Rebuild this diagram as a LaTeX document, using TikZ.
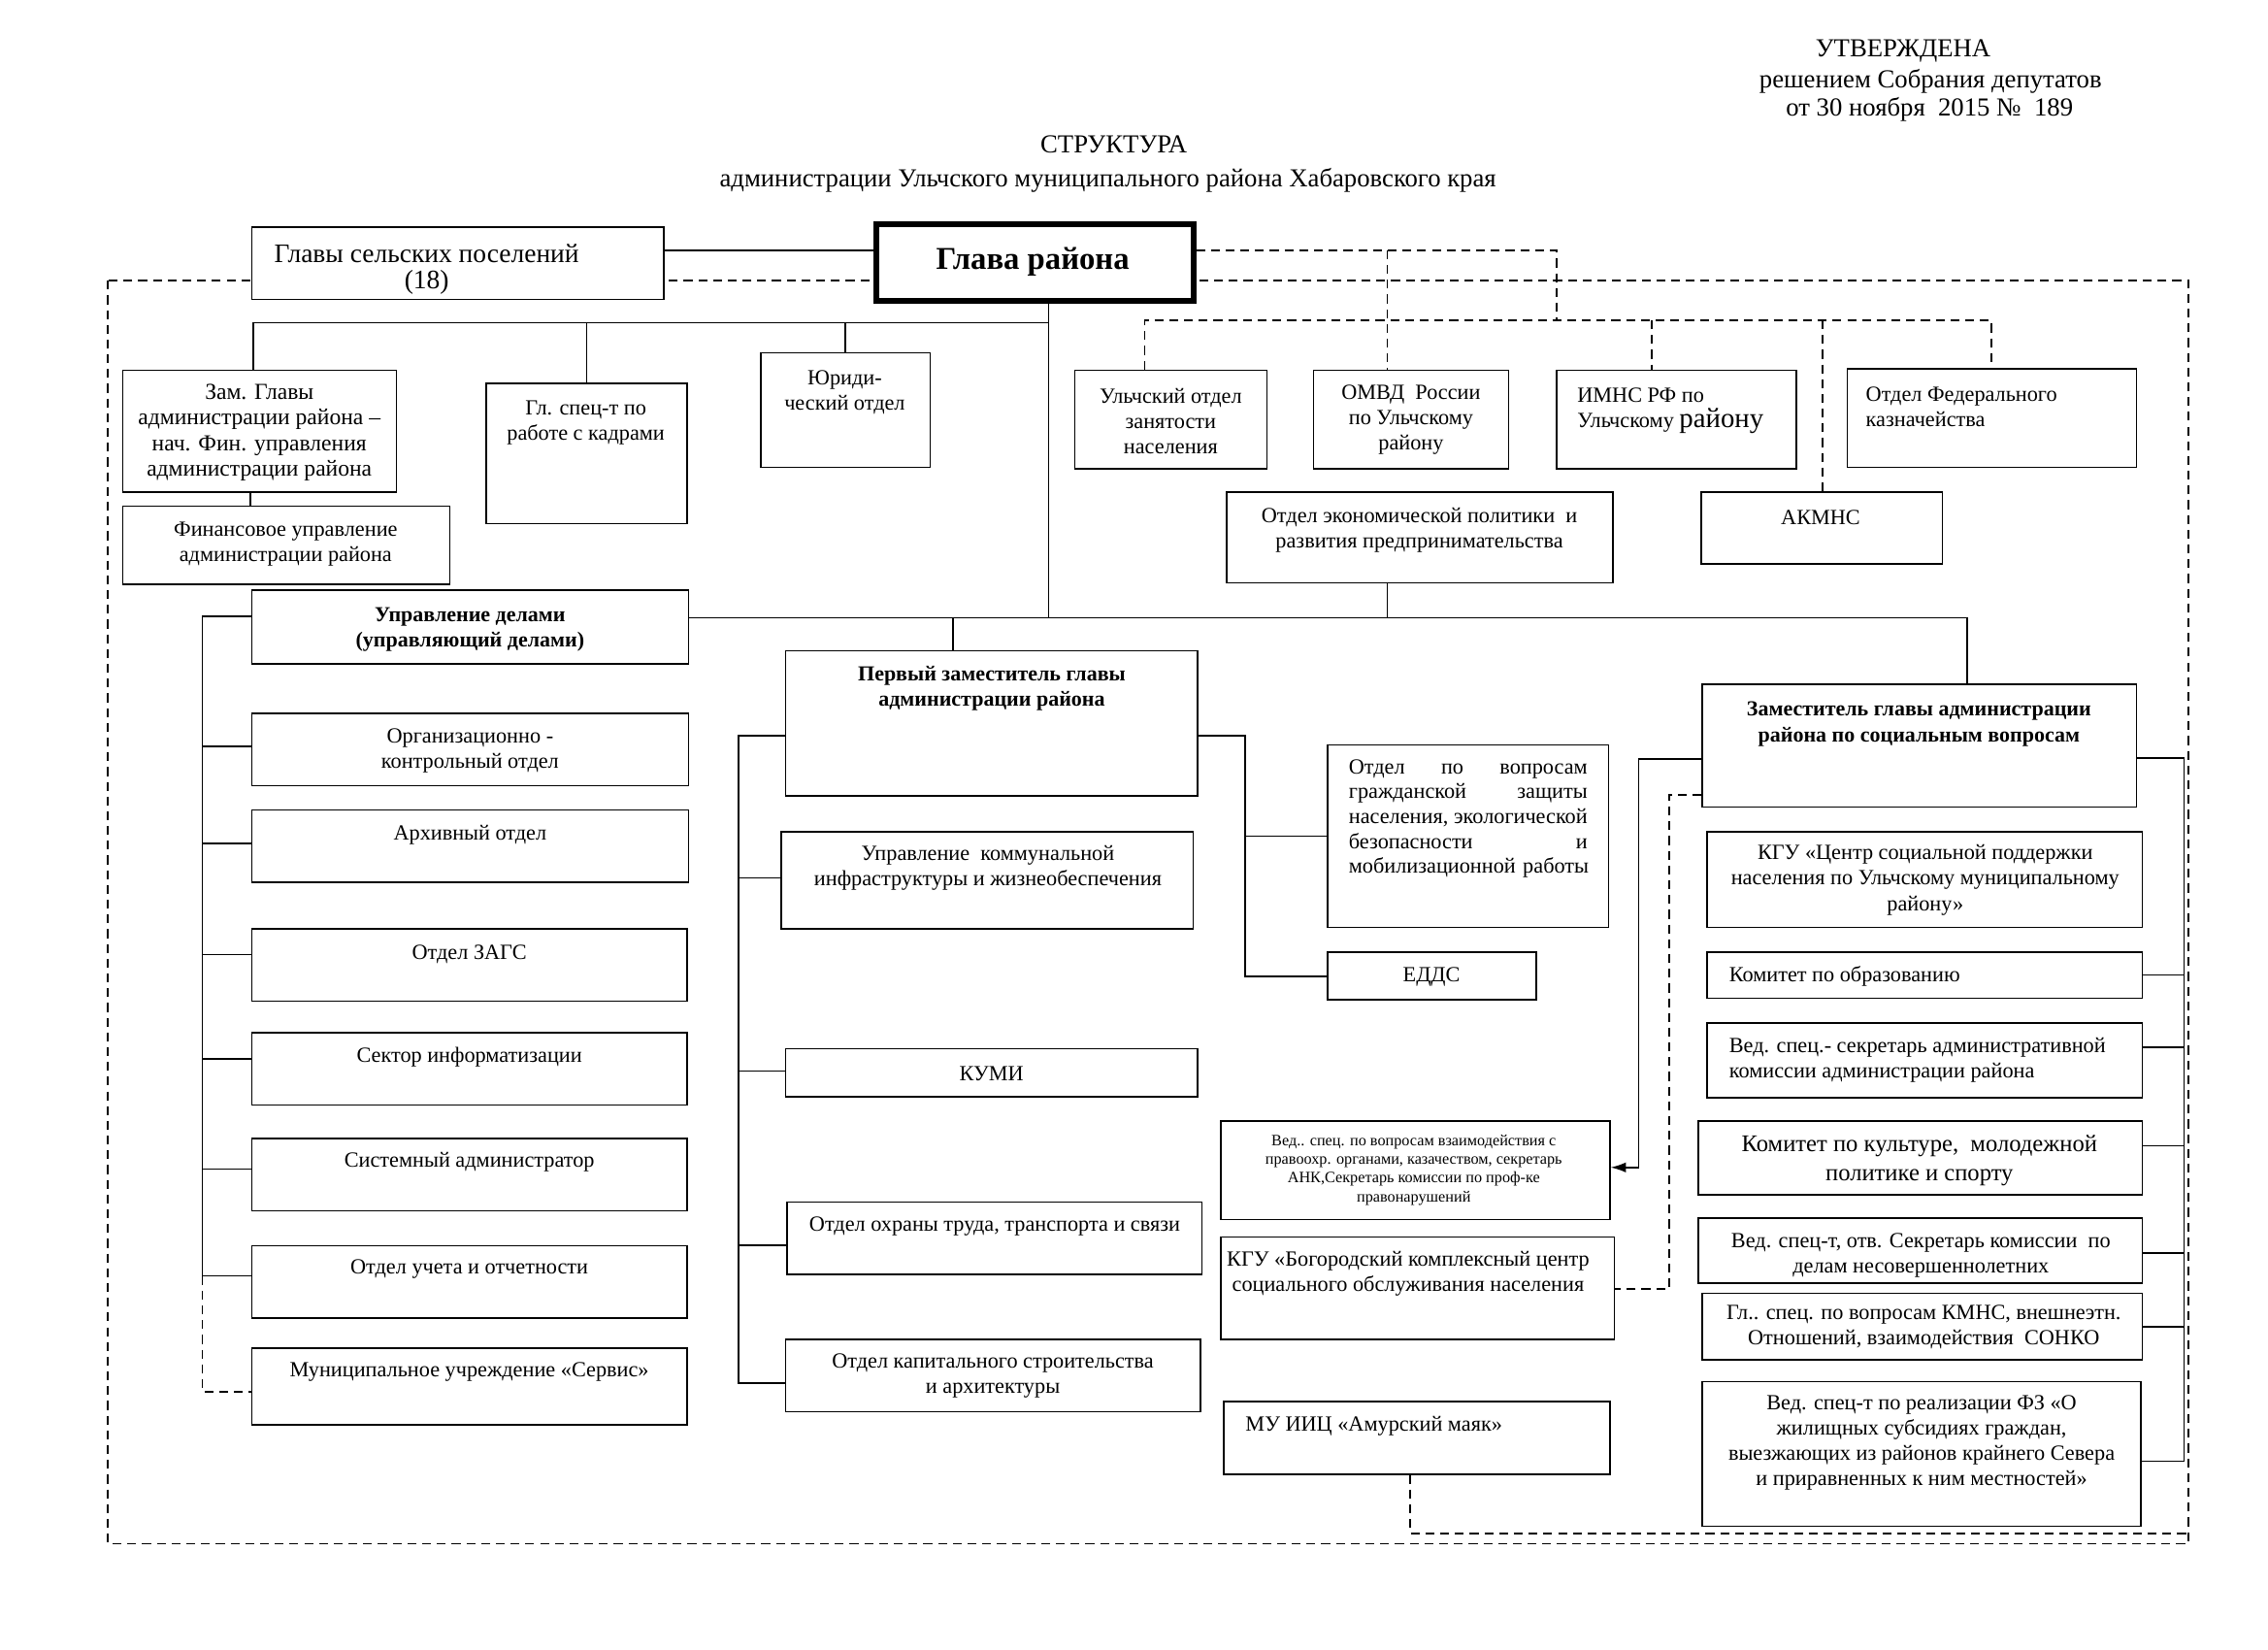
\documentclass[tikz,border=0pt]{standalone}
\usepackage{fontspec}
\setmainfont{Liberation Serif}
\usetikzlibrary{fit,arrows.meta,calc}

\tikzset{
  box/.style={draw, fill=white, line width=0.6pt, inner sep=0pt},
  txt/.style={align=center, inner sep=0pt, font=\fontsize{8.5}{10}\selectfont},
  txtb/.style={txt, font=\fontsize{8.4}{10}\selectfont\bfseries},
  hdr/.style={inner sep=0pt, font=\fontsize{10.2}{12}\selectfont},
  dline/.style={dash pattern=on 3.5pt off 2.3pt},
}

\begin{document}
\begin{tikzpicture}[x=0.02cm, y=-0.02cm, line width=0.6pt, >={Latex[length=6pt,width=4pt]}]

\fill[white] (0,0) rectangle (1568,1140.6);
\useasboundingbox (0,0) rectangle (1568,1140.6);

% dashed frame
\draw[dline] (74.5,194) rectangle (1513,1067);

% header
\node[hdr] at (1315.7,35) (utv) {УТВЕРЖДЕНА};
\node[hdr] at (1334.7,56) (resh) {решением Собрания депутатов};
\node[hdr] at (1334,75.6) (dat) {от 30 ноября~ 2015 №~ 189};
\node[hdr] at (770,100) (strk) {СТРУКТУРА};
\node[hdr] at (766,124.8) (admk) {администрации Ульчского муниципального района Хабаровского края};

% top row
\node[box, fit={(174,157) (459,207)}] (GSP) {};
\node[txt, font=\fontsize{10.5}{10.3}\selectfont] at (295,186) (GSPt) {Главы сельских поселений\\(18)};
\node[box, line width=2.2pt, fit={(606,155) (825,208)}] (GR) {};
\node[txt, font=\fontsize{12.5}{14}\selectfont\bfseries] at (714,181) (GRt) {Глава района};

\node[box, fit={(85,256) (274,340)}] (ZG) {};
\node[txt, font=\fontsize{9}{10}\selectfont] at (179.3,299) (ZGt) {Зам. Главы\\администрации района --\\нач. Фин. управления\\администрации района};
\node[box, fit={(85,350) (311,404)}] (FU) {};
\node[txt] at (197.5,376.3) (FUt) {Финансовое управление\\администрации района};
\node[box, fit={(336,265) (475,362)}] (KD) {};
\node[txt] at (405,292) (KDt) {Гл. спец-т по\\работе с кадрами};
\node[box, fit={(526,244) (643,323)}] (YU) {};
\node[txt] at (584,271) (YUt) {Юриди-\\ческий отдел};

\node[box, fit={(743,256) (876,324)}] (UZ) {};
\node[txt] at (809.4,291) (UZt) {Ульчский отдел\\занятости\\населения};
\node[box, fit={(908,256) (1043,324)}] (OM) {};
\node[txt] at (975.5,290.4) (OMt) {ОМВД~ России\\по Ульчскому\\району};
\node[box, fit={(1076,256) (1242,324)}] (IM) {};
\node[txt, align=left, anchor=west] at (1090,284) (IMt) {ИМНС РФ по\\Ульчскому {\fontsize{11}{12}\selectfont району}};
\node[box, fit={(1277,255) (1477,323)}] (FK) {};
\node[txt, align=left, anchor=west] at (1289.5,281.2) (FKt) {Отдел Федерального\\казначейства};
\node[box, fit={(848,340) (1115,403)}] (OE) {};
\node[txt] at (981.3,366.3) (OEt) {Отдел экономической политики~ и\\развития предпринимательства};
\node[box, fit={(1176,340) (1343,390)}] (AK) {};
\node[txt] at (1258.7,358) (AKt) {АКМНС};

% left column
\node[box, fit={(174,408) (476,459)}] (UD) {};
\node[txtb] at (325,435) (UDt) {Управление делами\\(управляющий делами)};
\node[box, fit={(174,493) (476,543)}] (OK) {};
\node[txt] at (325,519) (OKt) {Организационно -\\контрольный отдел};
\node[box, fit={(174,560) (476,610)}] (AO) {};
\node[txt] at (325,577) (AOt) {Архивный отдел};
\node[box, fit={(174,642) (475,692)}] (ZA) {};
\node[txt] at (324.5,659.7) (ZAt) {Отдел ЗАГС};
\node[box, fit={(174,714) (475,764)}] (SI) {};
\node[txt] at (324.5,731) (SIt) {Сектор информатизации};
\node[box, fit={(174,787) (475,837)}] (SA) {};
\node[txt] at (324.5,803.4) (SAt) {Системный администратор};
\node[box, fit={(174,861) (475,911)}] (OU) {};
\node[txt] at (324.5,877.4) (OUt) {Отдел учета и отчетности};
\node[box, fit={(174,932) (475,985)}] (MS) {};
\node[txt] at (324.5,948.6) (MSt) {Муниципальное учреждение «Сервис»};

% middle column
\node[box, fit={(543,450) (828,550)}] (PZ) {};
\node[txtb] at (685.7,475.7) (PZt) {Первый заместитель главы\\администрации района};
\node[box, fit={(540,575) (825,642)}] (UK) {};
\node[txt] at (683,600) (UKt) {Управление~ коммунальной\\инфраструктуры и жизнеобеспечения};
\node[box, fit={(543,725) (828,758)}] (KU) {};
\node[txt] at (685.5,742) (KUt) {КУМИ};
\node[box, fit={(544,831) (831,881)}] (OT) {};
\node[txt] at (687.7,848) (OTt) {Отдел охраны труда, транспорта и связи};
\node[box, fit={(543,926) (830,976)}] (KS) {};
\node[txt] at (686.4,951) (KSt) {Отдел капитального строительства\\и архитектуры};

\node[box, fit={(918,515) (1112,641)}] (GZ) {};
\node[txt, font=\fontsize{8.5}{9.8}\selectfont, align=left, text width=3.3cm, anchor=west] at (932,566) (GZt) {Отдел\hfill по\hfill вопросам\\гражданской\hfill защиты\\населения,\hfill экологической\\безопасности\hfill и\\\mbox{мобилизационной работы}};
\node[box, fit={(918,658) (1062,691)}] (ED) {};
\node[txt] at (989.7,675) (EDt) {ЕДДС};

\node[box, fit={(844,775) (1113,843)}] (VV) {};
\node[txt, font=\fontsize{6.2}{7.4}\selectfont] at (977.4,808.8) (VVt) {Вед.. спец. по вопросам взаимодействия с\\правоохр. органами, казачеством, секретарь\\АНК,Секретарь комиссии по проф-ке\\правонарушений};
\node[box, fit={(844,855) (1116,926)}] (KB) {};
\node[txt] at (973.5,880.2) (KBt) {КГУ «Богородский комплексный центр\\социального обслуживания населения};
\node[box, fit={(846,969) (1113,1019)}] (MU) {};
\node[txt, anchor=west] at (860.6,986) (MUt) {МУ ИИЦ «Амурский маяк»};

% right column
\node[box, fit={(1177,473) (1477,558)}] (ZS) {};
\node[txtb] at (1326.7,500.5) (ZSt) {Заместитель главы администрации\\района по социальным вопросам};
\node[box, fit={(1180,575) (1481,641)}] (KC) {};
\node[txt] at (1331,608.3) (KCt) {КГУ «Центр социальной поддержки\\населения по Ульчскому муниципальному\\району»};
\node[box, fit={(1180,658) (1481,690)}] (KO) {};
\node[txt, anchor=west] at (1195,674.8) (KOt) {Комитет по образованию};
\node[box, fit={(1180,707) (1481,759)}] (VS) {};
\node[txt, align=left, anchor=west] at (1195,733) (VSt) {Вед. спец.- секретарь административной\\комиссии администрации района};
\node[box, fit={(1174,775) (1481,826)}] (KK) {};
\node[txt, font=\fontsize{9.4}{11.4}\selectfont] at (1327,802.4) (KKt) {Комитет по культуре,~ молодежной\\политике и спорту};
\node[box, fit={(1174,842) (1481,887)}] (VO) {};
\node[txt] at (1328,868) (VOt) {Вед. спец-т, отв. Секретарь комиссии~ по\\делам несовершеннолетних};
\node[box, fit={(1177,894) (1481,940)}] (GS) {};
\node[txt] at (1330,917.5) (GSt) {Гл.. спец. по вопросам КМНС, внешнеэтн.\\Отношений, взаимодействия~ СОНКО};
\node[box, fit={(1177,955) (1480,1055)}] (FZ) {};
\node[txt] at (1328.5,997.4) (FZt) {Вед. спец-т по реализации ФЗ «О\\жилищных субсидиях граждан,\\выезжающих из районов крайнего Севера\\и приравненных к ним местностей»};

% solid links
\coordinate (a1) at (725,223);
\coordinate (a2) at (725,427);
\draw (GSP.east |- 0,173) -- (GR.west |- 0,173);
\draw (GR.south -| a1) -- (a2);
\draw (ZG.north -| 175,0) |- (a1);
\draw (KD.north) -- (KD.north |- a1);
\draw (YU.north) -- (YU.north |- a1);
\draw (ZG.south -| 173,0) -- (FU.north -| 173,0);
\draw (UD.east |- a2) -- (1360,427) -- (ZS.north -| 1360,0);
\draw (PZ.north -| 659,0) -- (659,427);
\draw (OE.south -| 959,0) -- (959,427);

\draw (UD.west |- 0,426) -| (140,882) -- (OU.west |- 0,882);
\foreach \n/\y in {OK/516, AO/583, ZA/660, SI/732, SA/808}
  \draw (140,\y) -- (\n.west |- 0,\y);
\draw[dline] (140,882) |- (MS.west |- 0,962);

\draw (PZ.west |- 0,508.5) -| (510.5,956) -- (KS.west |- 0,956);
\foreach \n/\y in {UK/607, KU/740.5, OT/860.7}
  \draw (510.5,\y) -- (\n.west |- 0,\y);
\draw (PZ.east |- 0,508.5) -| (861,675) -- (ED.west |- 0,675);
\draw (861,578) -- (GZ.west |- 0,578);

\draw (ZS.east |- 0,524) -| (1510,1010) -- (FZ.east |- 0,1010);
\foreach \n/\y in {KO/674, VS/724, KK/792, VO/866, GS/917}
  \draw (1510,\y) -- (\n.east |- 0,\y);
\draw[->] (ZS.west |- 0,524.5) -| (1133,807) -- (VV.east |- 0,807);

% dashed links
\draw[dline] (ZS.west |- 0,549.5) -| (1154,891) -- (KB.east |- 0,891);
\draw[dline] (GR.east |- 0,173) -- (1076,173) -- (1076,221.4);
\draw[dline] (959,173) -- (OM.north -| 959,0);
\draw[dline] (UZ.north -| 791.5,0) |- (1376.7,221.4) -- (FK.north -| 1376.7,0);
\draw[dline] (1142,221.4) -- (IM.north -| 1142,0);
\draw[dline] (1260,221.4) -- (AK.north -| 1260,0);
\draw[dline] (MU.south -| 975,0) |- (1513,1060);

\end{tikzpicture}
\end{document}
